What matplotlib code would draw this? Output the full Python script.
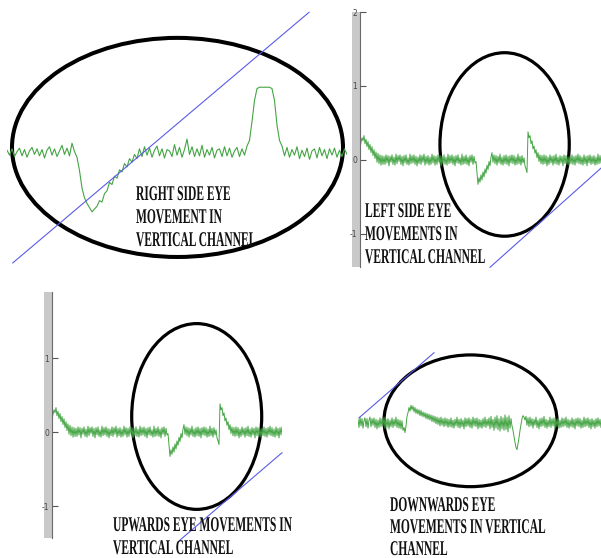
import numpy as np
import matplotlib
matplotlib.use("Agg")
import matplotlib.pyplot as plt
from matplotlib.patches import Ellipse, Rectangle
from matplotlib.patheffects import AbstractPathEffect
from matplotlib.transforms import Affine2D

W, H = 601, 558

# vertical channel EOG traces, in hundredths of a unit
right_side = [4, -3, 6, -5, 2, 7, -4, 5, -6, 3, 8, -2, 6, -4, 5, -7, 4, 9, -3, 6,
              -5, 3, 11, -2, 7, -4, 14, 2,
              -6, -25, -50, -64, -72, -78, -84, -80, -76, -68, -70, -58, -54, -42,
              -45, -33, -36, -24, -27, -15, -20, -8, -13, -2, -8,
              6, -5, 9, -3, 7, -6, 4, 10, -4, 6, -7, 5, 3, -5, 12, -3, 8, -6, 5, 20,
              -2, 9, -5, 6, -4, 11, -6, 5, -3, 8, -7, 4, 6, -5, 9, -4, 7, -6, 3, 8,
              -5, 6, -3, 10,
              18, 45, 75, 92, 94, 94, 94, 94, 94, 92, 75, 40, 18, 10,
              -4, 8, -6, 5, -3, 9, -8, 4, -5, 7, -9, 3, 6, -7, 8, -4, 5, -8, 6, -3,
              7, -6, 4, -5, 6, -2]

# left side and upwards recordings show the same trace
left_up = [16, 24, 30, 26, 33, 22, 28, 18, 25, 14, 21, 10, 18, 6, 14, 2, 11, -3, 9, -5,
           7, -7, 6, -6, 5,
           -6, 7, -4, 6, -8, 5, -3, 7, -6, 4,
           -7, 8, -5, 6, -2, 7, -6, 5, -8, 6,
           -4, 7, -6, 3, -7, 8, -5, 6, -4, 7,
           -6, 5, -8, 4, -5, 7, -6, 6, -3, 8,
           -7, 5, -5, 6, -7, 4, -6, 8, -4, 6,
           -7, 5, -6, 7, -3, 6, -8, 5, -5, 7,
           -6, 4, -7, 8, -5, 6, -4, 7, -6, 5,
           -8, 6, -4, 7, -5, 3, -7, 8, -6, 5,
           -5, 7, -6, 4, -8, 6, -3, 7, -6, 5, -4,
           -2, -18, -33, -24, -30, -20, -27, -16, -23, -12, -18, -7, -13, -2, -8, 4, 10, -3,
           7, -5, 6, -7, 5, -4, 8, -6, 4, -7,
           6, -5, 7, -6, 5, -8, 6, -4, 7, -5,
           6, -7, 4, -6, 8, -5, 5, -7, 6, -4, 3, -8,
           -12, -17, 38, 30, 33, 22, 26, 15, 19, 9, 14, 3, 10, -2, 7, -5, 6, -6,
           7, -5, 6, -8, 4, -6, 7, -4, 5, -7,
           6, -5, 8, -6, 4, -7, 6, -4, 5, -8,
           7, -5, 6, -6, 4, -7, 5, -5, 7, -6,
           5, -7, 6, -4, 8, -5, 6, -6, 4, -7,
           7, -5, 5, -8, 6, -4, 7, -6, 5, -5,
           6, -7, 4, -6, 8, -5, 6, -4]

downwards = [5, -6, 8, -4, 6, -7, 3, 7, -5, 6,
             -7, 4, 8, -5, 6, -3, 7, -6, 5, -8,
             4, -6, 7, -5, 6, -4, 8, -7, 5, -6,
             6, -8, 4, -5, 7, -6, 5, -4, 8, -6,
             5, -7, 4, -8, 3, -10, -6,
             -13, -4, 9, 14, 21, 16, 24, 18, 23, 15, 21, 13, 19, 12, 18, 10, 17, 9, 15, 8,
             14, 6, 13, 5, 12, 4, 11, 2, 10, 1, 9, -1, 8, -2, 7, -4, 8, -3, 6, -5,
             7, -4, 6, -6, 5,
             -5, 7, -6, 4, -7, 5, -4, 8, -6, 5,
             -7, 6, -5, 4, -8, 7, -5, 6, -4, 7,
             -6, 5, -7, 8, -4, 6, -5, 7, -8, 5,
             -6, 4, -7, 6, -5, 8, -6, 5, -4, 7,
             -8, 9, -6, 5, -10, 8, -7, 10, -9, 6,
             -11, 9, -8, 7, -10, 11, -9, 8, -12, 10,
             -7, 6,
             -4, -10, -18, -26, -33, -36, -28, -20, -10, -2, 6, 10, 8,
             4, 9, -3, 7, -5, 8, -4, 6, -7, 5,
             -3, 8, -6, 4, -8, 6, -5, 7, -4, 9,
             -6, 5, -7, 4, -5, 8, -6, 6, -4, 7,
             -8, 5, -5, 6, -7, 4, -6, 7, -5, 6,
             -4, 8, -6, 5, -7, 4, -5, 7, -6, 5,
             -8, 6, -4, 7, -5, 6, -7, 4, -6, 8,
             -5, 6, -4, 7, -6, 5, -8, 6, -5, 4,
             -7, 6, -5, 7, -4, 5, -6]

# circled segments: centre x, centre y, width, height (panel data units)
right_ring = (68.2, 0.08, 132.4, 3.13)
left_ring = (144.6, 0.21, 129.3, 2.48)
up_ring = (144.7, 0.21, 130.0, 2.51)
down_ring = (112.5, 0.03, 173.0, 1.78)

# blue reference lines
right_ref_x, right_ref_y = [2.3, 120.8], [-1.57, 2.01]
left_ref_x, left_ref_y = [130.0, 241.0], [-1.45, -0.11]
up_ref_x, up_ref_y = [128.0, 230.0], [-1.46, -0.28]
down_ref_x, down_ref_y = [1.0, 76.0], [0.07, 0.95]

right_caption = ["RIGHT SIDE EYE", "MOVEMENT IN", "VERTICAL CHANNEL"]
left_caption = ["LEFT SIDE EYE", "MOVEMENTS IN", "VERTICAL CHANNEL"]
up_caption = ["UPWARDS EYE MOVEMENTS IN", "VERTICAL CHANNEL"]
down_caption = ["DOWNWARDS EYE", "MOVEMENTS IN VERTICAL", "CHANNEL"]

GREEN = "#44a444"
BLUE = "#5b5be8"


class Stretch(AbstractPathEffect):
    """Scale glyph outlines about the start of each line."""

    def __init__(self, sx, sy):
        super().__init__()
        self._sx, self._sy = sx, sy

    def draw_path(self, renderer, gc, tpath, affine, rgbFace=None):
        renderer.draw_path(gc, tpath, Affine2D().scale(self._sx, self._sy) + affine, rgbFace)


fig = plt.figure(figsize=(W / 100, H / 100), dpi=100)
fig.patch.set_facecolor("white")


def panel(box, xlim, ylim):
    l, t, r, b = box
    ax = fig.add_axes([l / W, 1 - b / H, (r - l) / W, (b - t) / H])
    ax.set_xlim(*xlim)
    ax.set_ylim(*ylim)
    ax.patch.set_visible(False)
    return ax


def matlab_axis(ax, box, ticks):
    # grey strip with the amplitude ticks on the left edge
    width = box[2] - box[0]
    ax.add_patch(Rectangle((-8.5 / width, 0), 8.5 / width, 1, transform=ax.transAxes,
                           clip_on=False, facecolor="#c9c9c9", edgecolor="none", zorder=0))
    for side in ["top", "right", "bottom"]:
        ax.spines[side].set_visible(False)
    ax.spines["left"].set_color("#6a6a6a")
    ax.spines["left"].set_linewidth(0.8)
    ax.set_xticks([])
    ax.set_yticks(ticks)
    ax.set_yticklabels([str(t) for t in ticks])
    ax.tick_params(axis="y", direction="in", length=4, width=0.8, color="#555555",
                   labelsize=5.5, labelcolor="#444444", pad=2)


def trace(ax, values, ring, ref_x, ref_y, ring_lw, lw=0.8):
    sig = np.array(values) / 100.0
    ax.plot(np.arange(len(sig)), sig, color=GREEN, lw=lw)
    ax.plot(ref_x, ref_y, color=BLUE, lw=0.8, clip_on=False)
    cx, cy, w, h = ring
    ax.add_patch(Ellipse((cx, cy), w, h, fill=False, edgecolor="black", lw=ring_lw, clip_on=False))


def caption(lines, left, baseline, step=23):
    for k, s in enumerate(lines):
        fig.text(left / W, 1 - (baseline + step * k) / H, s, ha="left", va="baseline",
                 family="Liberation Serif", weight="bold", fontsize=8.3, color="#111111",
                 path_effects=[Stretch(1.0, 1.82)])


ax1 = panel((7, 0, 347, 270), (0, 136), (-1.671, 2.186))
ax1.axis("off")
trace(ax1, right_side, right_ring, right_ref_x, right_ref_y, 2.9)

box2 = (360, 12, 601, 267)
ax2 = panel(box2, (0, 241), (-1.446, 2.0))
matlab_axis(ax2, box2, [-1, 0, 1, 2])
trace(ax2, left_up, left_ring, left_ref_x, left_ref_y, 2.3, lw=0.7)

box3 = (52, 292, 282, 538)
ax3 = panel(box3, (0, 230), (-1.432, 1.892))
matlab_axis(ax3, box3, [-1, 0, 1])
trace(ax3, left_up, up_ring, up_ref_x, up_ref_y, 2.3, lw=0.7)

ax4 = panel((358, 330, 601, 558), (0, 243), (-1.824, 1.257))
ax4.axis("off")
trace(ax4, downwards, down_ring, down_ref_x, down_ref_y, 2.3, lw=0.7)

caption(right_caption, 136, 200)
caption(left_caption, 365, 217)
caption(up_caption, 113, 531)
caption(down_caption, 390, 511, step=22)

fig.savefig("out.png", dpi=100)
